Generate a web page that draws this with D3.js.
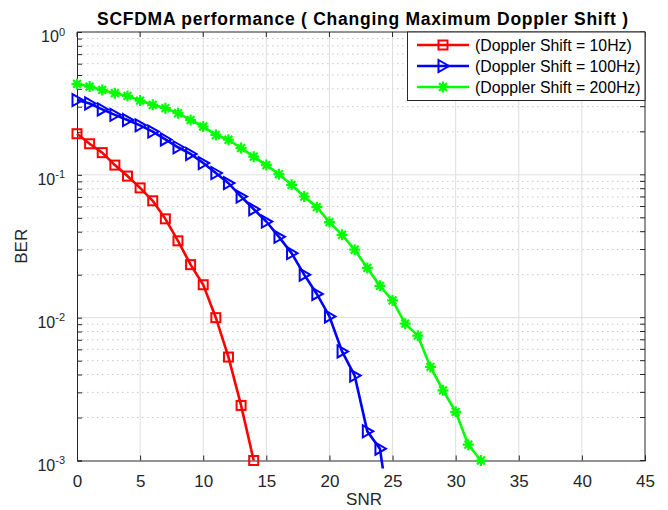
<!DOCTYPE html>
<html><head><meta charset="utf-8">
<script src="https://cdn.jsdelivr.net/npm/d3@7"></script>
<style>body{margin:0;background:#fff}svg{display:block;font-family:"Liberation Sans",Arial,Helvetica,sans-serif}</style>
</head><body><svg id="c" width="668" height="510"></svg>
<script>
const title = "SCFDMA performance ( Changing Maximum Doppler Shift )";
const xLabel = "SNR", yLabel = "BER";
const xTicks = [0,5,10,15,20,25,30,35,40,45];
const yTickExps = [0,-1,-2,-3];
const seriesNames = ["(Doppler Shift = 10Hz)","(Doppler Shift = 100Hz)","(Doppler Shift = 200Hz)"];
const seriesColors = ["#ff0000","#0000ff","#00ff00"];
const seriesMarkers = ["square","triangle","star"];
const snr10 = [0,1,2,3,4,5,6,7,8,9,10,11,12,13,14];
const ber10 = [0.194,0.165,0.143,0.117,0.098,0.081,0.0658,0.0492,0.0345,0.0235,0.017,0.0100,0.0053,0.00243,0.0010];
const snr100 = [0,1,2,3,4,5,6,7,8,9,10,11,12,13,14,15,16,17,18,19,20,21,22,23,24,25];
const ber100 = [0.334,0.316,0.287,0.263,0.242,0.222,0.201,0.177,0.156,0.140,0.121,0.103,0.0875,0.0705,0.0575,0.0471,0.0368,0.0283,0.0200,0.01465,0.0102,0.0058,0.00393,0.0016,0.00121,0.0003];
const snr200 = [0,1,2,3,4,5,6,7,8,9,10,11,12,13,14,15,16,17,18,19,20,21,22,23,24,25,26,27,28,29,30,31,32];
const ber200 = [0.433,0.415,0.393,0.373,0.357,0.331,0.309,0.293,0.270,0.242,0.218,0.190,0.176,0.154,0.134,0.117,0.101,0.0851,0.0705,0.0594,0.0467,0.0380,0.0299,0.0223,0.0167,0.0132,0.00908,0.00748,0.00452,0.00310,0.00219,0.00129,0.0010];

const series = [
  {x:snr10,y:ber10},{x:snr100,y:ber100},{x:snr200,y:ber200}
].map((s,i)=>({name:seriesNames[i],color:seriesColors[i],marker:seriesMarkers[i],pts:s.x.map((v,j)=>[v,s.y[j]])}));

const L=77,R=645,T=32,B=460.5;
const svg=d3.select("#c");
const x=d3.scaleLinear().domain([0,45]).range([L,R]);
const y=d3.scaleLog().domain([1e-3,1]).range([B,T]);
const txt="#262626";

// minor grid
const minors=[];
for(let e=-3;e<0;e++) for(let k=2;k<=9;k++) minors.push(k*Math.pow(10,e));
svg.append("g").selectAll("line").data(minors).join("line")
  .attr("x1",L).attr("x2",R).attr("y1",d=>y(d)).attr("y2",d=>y(d))
  .attr("stroke","#c8c8c8").attr("stroke-width",1).attr("stroke-dasharray","1.5,3.5");
// major grid
svg.append("g").selectAll("line").data(xTicks.slice(1,-1)).join("line")
  .attr("x1",d=>x(d)).attr("x2",d=>x(d)).attr("y1",T).attr("y2",B)
  .attr("stroke","#dedede").attr("stroke-width",1);
svg.append("g").selectAll("line").data(yTickExps.slice(1,-1)).join("line")
  .attr("x1",L).attr("x2",R).attr("y1",d=>y(Math.pow(10,d))).attr("y2",d=>y(Math.pow(10,d)))
  .attr("stroke","#dedede").attr("stroke-width",1);

// axes
const xAxis=d3.axisBottom(x).tickValues(xTicks).tickSize(-5).tickPadding(14).tickFormat(d3.format("d"));
const gx=svg.append("g").attr("transform",`translate(0,${B})`).call(xAxis);
gx.select(".domain").attr("stroke",txt);
gx.selectAll(".tick line").attr("stroke",txt);
gx.selectAll("text").attr("fill",txt).attr("font-size",17).attr("font-family","Liberation Sans, Arial, sans-serif");
const yAxis=d3.axisLeft(y).tickValues(minors.concat(yTickExps.map(e=>Math.pow(10,e)))).tickSize(-5).tickFormat("");
const gy=svg.append("g").attr("transform",`translate(${L},0)`).call(yAxis);
gy.select(".domain").attr("stroke",txt);
gy.selectAll(".tick line").attr("stroke",txt);
// top and right box lines
svg.append("line").attr("x1",L).attr("x2",R).attr("y1",T).attr("y2",T).attr("stroke",txt);
svg.append("line").attr("x1",R).attr("x2",R).attr("y1",T).attr("y2",B).attr("stroke",txt);
// opposite ticks
svg.append("g").selectAll("line").data(xTicks).join("line")
  .attr("x1",d=>x(d)).attr("x2",d=>x(d)).attr("y1",T).attr("y2",T+5).attr("stroke",txt);
svg.append("g").selectAll("line").data(minors.concat(yTickExps.map(e=>Math.pow(10,e)))).join("line")
  .attr("x1",R-5).attr("x2",R).attr("y1",d=>y(d)).attr("y2",d=>y(d)).attr("stroke",txt);

// y labels 10^e
const yl=svg.append("g").selectAll("text").data(yTickExps).join("text")
  .attr("x",65).attr("y",d=>y(Math.pow(10,d))+10).attr("text-anchor","end").attr("fill",txt)
  .attr("font-size",16);
yl.append("tspan").text("10");
yl.append("tspan").attr("dy",-6.5).attr("font-size",11).text(d=>String(d));

// labels
svg.append("text").attr("x",364).attr("y",505).attr("text-anchor","middle").attr("fill",txt).attr("font-size",17).text(xLabel);
svg.append("text").attr("transform",`translate(27,${(T+B)/2}) rotate(-90)`).attr("text-anchor","middle").attr("fill",txt).attr("font-size",17).text(yLabel);
svg.append("text").attr("x",97).attr("y",25).attr("fill","#000").attr("font-size",17.5).attr("font-weight","bold")
  .attr("textLength",531).attr("lengthAdjust","spacing").text(title);

// clip
svg.append("defs").append("clipPath").attr("id","clip").append("rect").attr("x",L-8).attr("y",T).attr("width",R-L+16).attr("height",B-T+8);

function marker(g,type,color){
  if(type==="square"){
    g.append("rect").attr("x",-4.5).attr("y",-4.5).attr("width",9).attr("height",9).attr("fill","none").attr("stroke",color).attr("stroke-width",2);
  } else if(type==="triangle"){
    g.append("path").attr("d","M-4.5,-6L6,0L-4.5,6Z").attr("fill","none").attr("stroke",color).attr("stroke-width",2);
  } else {
    const r=5.5;
    let d="";
    for(let a=0;a<180;a+=45){const c=Math.cos(a*Math.PI/180)*r,s=Math.sin(a*Math.PI/180)*r;d+=`M${-c},${-s}L${c},${s}`;}
    g.append("path").attr("d",d).attr("stroke",color).attr("stroke-width",2.2);
    g.append("circle").attr("r",2.5).attr("fill",color);
  }
}

const line=d3.line().x(d=>x(d[0])).y(d=>y(d[1]));
const plot=svg.append("g").attr("clip-path","url(#clip)");
series.forEach(s=>{
  plot.append("path").datum(s.pts).attr("d",line).attr("fill","none").attr("stroke",s.color).attr("stroke-width",2.6);
  plot.append("g").selectAll("g").data(s.pts.filter(p=>p[1]>=1e-3)).join("g")
    .attr("transform",d=>`translate(${x(d[0])},${y(d[1])})`).each(function(){marker(d3.select(this),s.marker,s.color);});
});

// legend
const lg=svg.append("g");
lg.append("rect").attr("x",407.5).attr("y",T).attr("width",R-407.5).attr("height",68.5).attr("fill","#fff").attr("stroke",txt).attr("stroke-width",1);
series.forEach((s,i)=>{
  const yy=45+i*21;
  lg.append("line").attr("x1",417).attr("x2",469).attr("y1",yy).attr("y2",yy).attr("stroke",s.color).attr("stroke-width",2.6);
  const m=lg.append("g").attr("transform",`translate(443,${yy})`);
  marker(m,s.marker,s.color);
  lg.append("text").attr("x",475).attr("y",yy+6).attr("fill","#000").attr("font-size",15.8).text(s.name);
});
</script></body></html>
